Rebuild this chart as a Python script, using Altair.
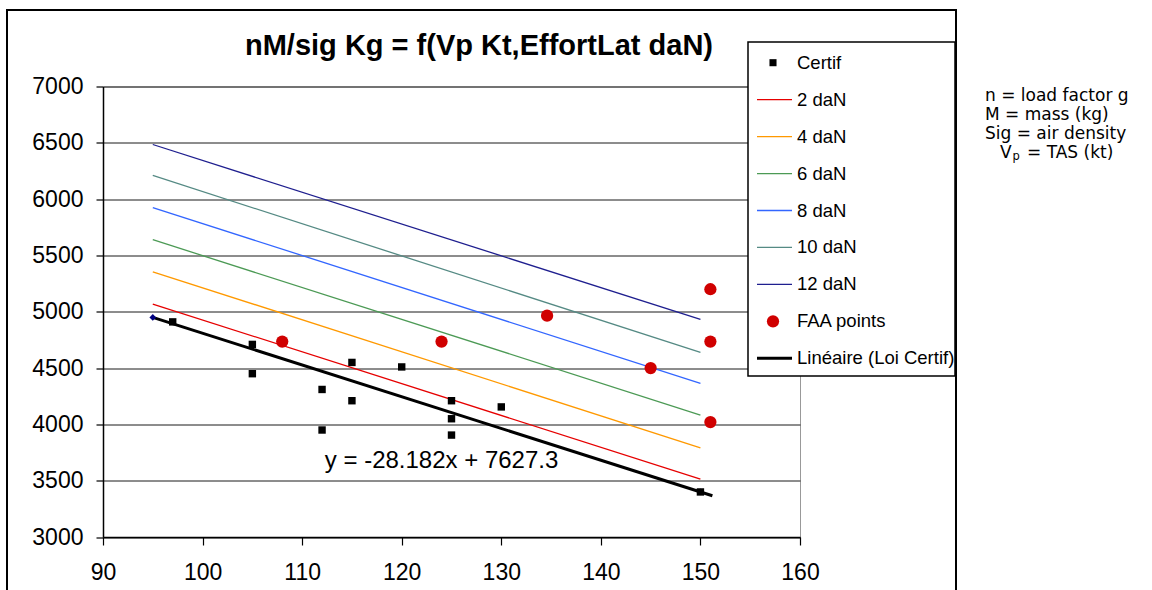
import altair as alt
import pandas as pd

# ---------------- data ----------------
certif_x = [97, 105, 105, 112, 112, 115, 115, 120, 125, 125, 125, 130, 150]
certif_y = [4910, 4710, 4450, 4310, 3950, 4550, 4210, 4510, 4210, 4050, 3905, 4155, 3400]

faa_x = [108, 124, 134.6, 145, 151, 151, 151]
faa_y = [4735, 4735, 4965, 4500, 5200, 4735, 4020]

loi_x = [95, 150]
loi_y = [4950, 3400]

effort_names = ["2 daN", "4 daN", "6 daN", "8 daN", "10 daN", "12 daN"]
effort_x = [95, 150]
effort_start = [5068, 5355, 5640, 5925, 6210, 6485]
effort_end = [3514, 3792, 4083, 4364, 4639, 4932]
effort_colors = ["#e60000", "#ff9900", "#4c9a55", "#3366ff", "#558a84", "#1f1f8f"]

x_ticks = [90, 100, 110, 120, 130, 140, 150, 160]
y_ticks = [3000, 3500, 4000, 4500, 5000, 5500, 6000, 6500, 7000]

title_text = "nM/sig Kg = f(Vp Kt,EffortLat daN)"
equation_text = "y = -28.182x + 7627.3"
notes = ["n = load factor g", "M = mass (kg)", "Sig = air density"]

FONT = "Liberation Sans"
NOTE_FONT = "DejaVu Sans"

# ---------------- tables ----------------
certif_df = pd.DataFrame({"x": certif_x, "y": certif_y})
faa_df = pd.DataFrame({"x": faa_x, "y": faa_y})
loi_df = pd.DataFrame({"x": loi_x, "y": loi_y})
rows = []
for n, a, b in zip(effort_names, effort_start, effort_end):
    rows.append({"series": n, "x": effort_x[0], "y": a})
    rows.append({"series": n, "x": effort_x[1], "y": b})
effort_df = pd.DataFrame(rows)
one = pd.DataFrame({"k": [0]})

xs = alt.Scale(domain=[90, 160], nice=False, zero=False)
ys = alt.Scale(domain=[3000, 7000], nice=False, zero=False)
x_axis = alt.Axis(values=x_ticks, title=None, grid=False, tickSize=8, labelPadding=16,
                  format="d", labelFont=FONT, labelFontSize=23, labelColor="black",
                  labelFlush=False, labelOverlap=False,
                  domainColor="black", domainWidth=1.5, tickColor="black", tickWidth=1.2)
y_axis = alt.Axis(values=y_ticks, title=None, grid=True, tickSize=7, labelPadding=13,
                  format="d", labelFont=FONT, labelFontSize=23, labelColor="black",
                  labelFlush=False, labelOverlap=False,
                  domainColor="black", domainWidth=1.5, tickColor="black", tickWidth=1.2,
                  gridColor="#1a1a1a", gridWidth=1, gridOpacity=1)

X = alt.X("x:Q", scale=xs, axis=x_axis)
Y = alt.Y("y:Q", scale=ys, axis=y_axis)

lines = alt.Chart(effort_df).mark_line(strokeWidth=1.3).encode(
    x=X, y=Y,
    color=alt.Color("series:N", scale=alt.Scale(domain=effort_names, range=effort_colors), legend=None),
    detail="series:N",
)

trend = alt.Chart(loi_df).transform_regression("x", "y", extent=[95, 151.2]).mark_line(
    color="black", strokeWidth=3).encode(x=X, y=Y)

loi_pts = alt.Chart(loi_df).mark_point(shape="diamond", filled=True, color="#000080",
                                       size=45, opacity=1).encode(x=X, y=Y)

certif_pts = alt.Chart(certif_df).mark_square(size=55, color="black", opacity=1).encode(x=X, y=Y)

faa_pts = alt.Chart(faa_df).mark_circle(size=150, color="#d00000", opacity=1).encode(x=X, y=Y)

eq = alt.Chart(pd.DataFrame({"x": [124.0], "y": [3610]})).mark_text(
    text=equation_text, font=FONT, fontSize=24, align="center", baseline="alphabetic", color="black"
).encode(x=X, y=Y)

layers = [lines, trend, loi_pts, certif_pts, faa_pts, eq]

# ---------------- layout (pixels relative to plot origin at (103, 86.5)) ----------------
OX, OY = 103, 86.5

def px(v):
    return v - OX

def py(v):
    return v - OY

# outer chart border
layers.append(alt.Chart(one).mark_rect(fillOpacity=0, stroke="black", strokeWidth=2).encode(
    x=alt.value(px(7)), x2=alt.value(px(956)), y=alt.value(py(10)), y2=alt.value(py(620))))

# title
layers.append(alt.Chart(one).mark_text(text=title_text, font=FONT, fontSize=29, fontWeight="bold",
                                       align="center", baseline="alphabetic", color="black").encode(
    x=alt.value(px(479)), y=alt.value(py(55))))

# legend box
layers.append(alt.Chart(one).mark_rect(fill="white", stroke="black", strokeWidth=1.5).encode(
    x=alt.value(px(748)), x2=alt.value(px(955)), y=alt.value(py(42)), y2=alt.value(py(376))))

legend_labels = ["Certif"] + effort_names + ["FAA points", "Linéaire (Loi Certif)"]
row_y0, row_dy = 62.7, 36.95
for i, lab in enumerate(legend_labels):
    yy = py(row_y0 + i * row_dy)
    if i == 0:
        sym = alt.Chart(one).mark_square(size=50, color="black", opacity=1).encode(
            x=alt.value(px(773)), y=alt.value(yy))
    elif lab == "FAA points":
        sym = alt.Chart(one).mark_circle(size=150, color="#d00000", opacity=1).encode(
            x=alt.value(px(773)), y=alt.value(yy))
    elif i == len(legend_labels) - 1:
        sym = alt.Chart(one).mark_rule(color="black", strokeWidth=3).encode(
            x=alt.value(px(757)), x2=alt.value(px(792)), y=alt.value(yy))
    else:
        sym = alt.Chart(one).mark_rule(color=effort_colors[i - 1], strokeWidth=1.3).encode(
            x=alt.value(px(757)), x2=alt.value(px(792)), y=alt.value(yy))
    txt = alt.Chart(one).mark_text(text=lab, font=FONT, fontSize=18.5, align="left",
                                   baseline="middle", color="black").encode(
        x=alt.value(px(797)), y=alt.value(yy))
    layers += [sym, txt]

# side notes
NOTE_FS = 17
note_base = [100.8, 120.0, 139.2]
for t, b in zip(notes, note_base):
    layers.append(alt.Chart(one).mark_text(text=t, font=NOTE_FONT, fontSize=NOTE_FS, align="left",
                                           baseline="alphabetic", color="black").encode(
        x=alt.value(px(985)), y=alt.value(py(b))))
layers.append(alt.Chart(one).mark_text(text="V", font=NOTE_FONT, fontSize=NOTE_FS, align="left",
                                       baseline="alphabetic", color="black").encode(
    x=alt.value(px(1000)), y=alt.value(py(158.4))))
layers.append(alt.Chart(one).mark_text(text="p", font=NOTE_FONT, fontSize=11.5, align="left",
                                       baseline="alphabetic", color="black").encode(
    x=alt.value(px(1012.5)), y=alt.value(py(160.4))))
layers.append(alt.Chart(one).mark_text(text="= TAS (kt)", font=NOTE_FONT, fontSize=NOTE_FS, align="left",
                                       baseline="alphabetic", color="black").encode(
    x=alt.value(px(1027)), y=alt.value(py(158.4))))

chart = alt.layer(*layers).properties(
    width=697, height=450.5,
    autosize=alt.AutoSizeParams(type="none"),
    padding={"left": 103, "top": 86.5, "right": 352, "bottom": 53},
    background="white",
).configure_view(stroke="#999999", strokeWidth=1)

chart.save("out.html", embed_options={"renderer": "svg", "actions": False})
